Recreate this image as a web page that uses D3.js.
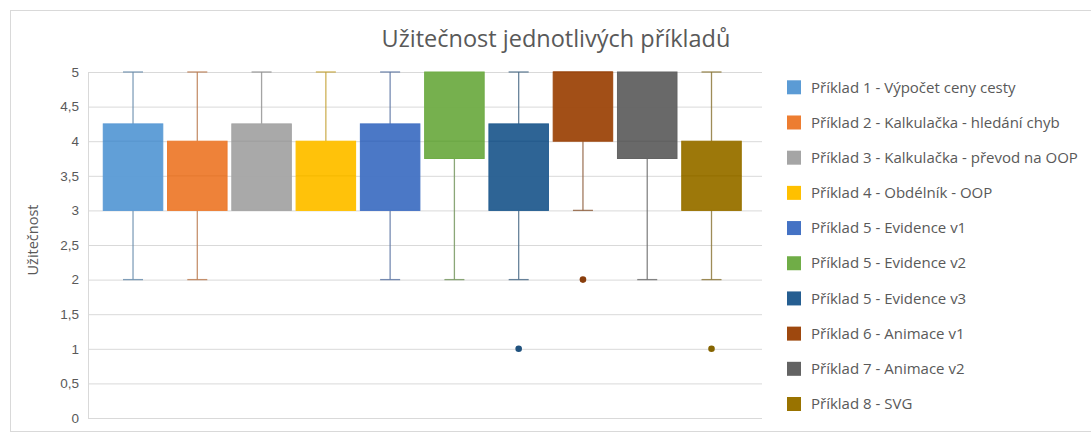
<!DOCTYPE html>
<html>
<head>
<meta charset="utf-8">
<script src="https://cdn.jsdelivr.net/npm/d3@7"></script>
<style>
  html, body { margin: 0; padding: 0; background: #fff; }
  svg { display: block; font-family: "Open Sans", "Noto Sans", sans-serif; }
</style>
</head>
<body>
<svg id="chart" width="1091" height="434"></svg>
<script>
// ---- data ----
const seriesNames = [
  "Příklad 1 - Výpočet ceny cesty",
  "Příklad 2 - Kalkulačka - hledání chyb",
  "Příklad 3 - Kalkulačka - převod na OOP",
  "Příklad 4 - Obdélník - OOP",
  "Příklad 5 - Evidence v1",
  "Příklad 5 - Evidence v2",
  "Příklad 5 - Evidence v3",
  "Příklad 6 - Animace v1",
  "Příklad 7 - Animace v2",
  "Příklad 8 - SVG"
];
const whiskerMin = [2, 2, 3, 3, 2, 2, 2, 3, 2, 2];
const quartile1  = [3, 3, 3, 3, 3, 3.75, 3, 4, 3.75, 3];
const medians    = [4, 3.5, 4, 3.5, 4, 4, 4, 5, 4, 3.5];
const quartile3  = [4.25, 4, 4.25, 4, 4.25, 5, 4.25, 5, 5, 4];
const whiskerMax = [5, 5, 5, 5, 5, 5, 5, 5, 5, 5];
const outliers   = [[], [], [], [], [], [], [1], [2], [], [1]];
const colors = ["#5B9BD5", "#ED7D31", "#A5A5A5", "#FFC000", "#4472C4",
                "#70AD47", "#255E91", "#9E480E", "#636363", "#997300"];
const yTicks = [0, 0.5, 1, 1.5, 2, 2.5, 3, 3.5, 4, 4.5, 5];
const chartTitle = "Užitečnost jednotlivých příkladů";
const yTitle = "Užitečnost";

// ---- layout ----
const svg = d3.select("#chart");
const plot = { left: 88, right: 762, top: 72, bottom: 418 };
const textColor = "#595959";
const gridColor = "#d9d9d9";

svg.append("rect")
  .attr("x", 10.5).attr("y", 10.5).attr("width", 1090).attr("height", 421)
  .attr("fill", "#fff").attr("stroke", "#d9d9d9");

const x = d3.scaleBand()
  .domain(seriesNames)
  .range([plot.left, plot.right])
  .paddingInner(0.074)
  .paddingOuter(0.28)
  .align(0.424);

const y = d3.scaleLinear().domain([0, 5]).range([plot.bottom, plot.top]);

// grid
const yAxis = d3.axisLeft(y)
  .tickValues(yTicks)
  .tickSize(-(plot.right - plot.left))
  .tickPadding(10)
  .tickFormat(d => String(d).replace(".", ","));

const gy = svg.append("g")
  .attr("transform", `translate(${plot.left},0)`)
  .call(yAxis);
gy.select(".domain").attr("stroke", gridColor);
gy.selectAll(".tick line").attr("stroke", gridColor);
gy.selectAll(".tick text")
  .attr("fill", textColor)
  .style("font-size", "13.5px")
  .attr("x", -9);

// boxes
const data = seriesNames.map((name, i) => ({
  name, min: whiskerMin[i], q1: quartile1[i], med: medians[i],
  q3: quartile3[i], max: whiskerMax[i], out: outliers[i], color: colors[i]
}));

const g = svg.append("g");
const bw = x.bandwidth();
const capW = 20;

data.forEach(d => {
  const cx = x(d.name) + bw / 2;
  const wg = g.append("g");
  if (d.max > d.q3) {
    wg.append("line").attr("x1", cx).attr("x2", cx)
      .attr("y1", y(d.q3)).attr("y2", y(d.max));
    wg.append("line").attr("x1", cx - capW / 2).attr("x2", cx + capW / 2)
      .attr("y1", y(d.max)).attr("y2", y(d.max));
  }
  if (d.min < d.q1) {
    wg.append("line").attr("x1", cx).attr("x2", cx)
      .attr("y1", y(d.q1)).attr("y2", y(d.min));
    wg.append("line").attr("x1", cx - capW / 2).attr("x2", cx + capW / 2)
      .attr("y1", y(d.min)).attr("y2", y(d.min));
  }
  wg.selectAll("line").attr("stroke", d3.interpolateRgb(d.color, "#7f7f7f")(0.45))
    .attr("stroke-width", 1.3).attr("stroke-opacity", 0.85);
  g.append("rect")
    .attr("x", x(d.name)).attr("width", bw)
    .attr("y", y(d.q3)).attr("height", y(d.q1) - y(d.q3))
    .attr("fill", d.color).attr("fill-opacity", 0.96)
    .attr("stroke", d.color).attr("stroke-width", 1);
  g.append("line")
    .attr("x1", x(d.name)).attr("x2", x(d.name) + bw)
    .attr("y1", y(d.med)).attr("y2", y(d.med))
    .attr("stroke", d3.color(d.color).darker(0.1)).attr("stroke-width", 1);
  d.out.forEach(v => {
    g.append("circle").attr("cx", cx).attr("cy", y(v)).attr("r", 3.3)
      .attr("fill", d3.color(d.color).darker(0.4));
  });
});

// title
svg.append("text")
  .attr("x", 556).attr("y", 47)
  .attr("text-anchor", "middle")
  .attr("fill", textColor)
  .style("font-size", "23.5px")
  .text(chartTitle);

// y title
svg.append("text")
  .attr("transform", "translate(38,240) rotate(-90)")
  .attr("text-anchor", "middle")
  .attr("fill", textColor)
  .style("font-size", "14.5px")
  .text(yTitle);

// legend
const legendY = d3.scalePoint().domain(seriesNames).range([87.3, 404]);
const lg = svg.append("g");
seriesNames.forEach((name, i) => {
  const cy = legendY(name);
  lg.append("rect").attr("x", 787).attr("y", cy - 7).attr("width", 14).attr("height", 14)
    .attr("fill", colors[i]);
  lg.append("text").attr("x", 811).attr("y", cy).attr("dy", "0.35em")
    .attr("fill", textColor).style("font-size", "15px").text(name);
});
</script>
</body>
</html>
